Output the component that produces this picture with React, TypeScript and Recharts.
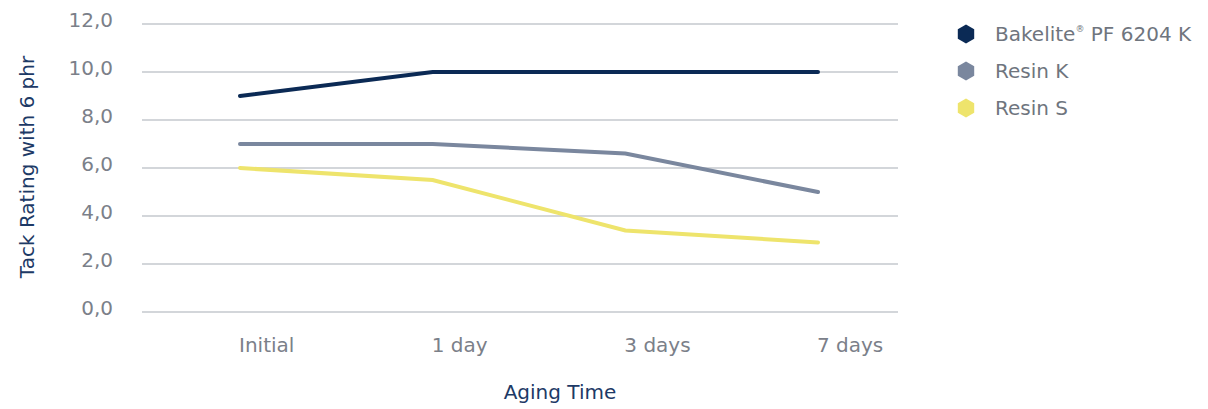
import React from 'react';
import { LineChart, Line, XAxis, YAxis, CartesianGrid, Legend } from 'recharts';

const categories = ['Initial', '1 day', '3 days', '7 days'];
const bakeliteValues = [9, 10, 10, 10];
const resinKValues = [7, 7, 6.6, 5];
const resinSValues = [6, 5.5, 3.4, 2.9];
const yTicks = [0, 2, 4, 6, 8, 10, 12];

const seriesList = [
  { key: 'bakelite', name: 'Bakelite', sup: '®', suffix: ' PF 6204 K', color: '#0b2a55' },
  { key: 'resinK', name: 'Resin K', sup: '', suffix: '', color: '#7a879e' },
  { key: 'resinS', name: 'Resin S', sup: '', suffix: '', color: '#eee46c' },
];

const data = categories.map((label, i) => ({
  label,
  bakelite: bakeliteValues[i],
  resinK: resinKValues[i],
  resinS: resinSValues[i],
}));

const FONT = '"DejaVu Sans", sans-serif';
const TICK_GRAY = '#7b8089';
const NAVY = '#1d3a66';

const XTick = (props: any) => {
  const { x, y, payload } = props;
  return (
    <text x={x - 1} y={y + 32} textAnchor="start" fill={TICK_GRAY} fontSize={20} fontFamily={FONT}>
      {payload.value}
    </text>
  );
};

const YTick = (props: any) => {
  const { x, y, payload } = props;
  return (
    <text x={x - 21} y={y + 3} textAnchor="end" fill={TICK_GRAY} fontSize={20} fontFamily={FONT}>
      {payload.value.toFixed(1).replace('.', ',')}
    </text>
  );
};

const Hexagon = ({ color }: { color: string }) => (
  <svg width={18} height={20} viewBox="0 0 18 20" style={{ display: 'block' }}>
    <polygon points="9,0.5 17.2,5.25 17.2,14.75 9,19.5 0.8,14.75 0.8,5.25" fill={color} />
  </svg>
);

const LegendContent = () => (
  <div style={{ fontFamily: FONT, fontSize: 20, color: '#6f757e' }}>
    {seriesList.map((s) => (
      <div key={s.key} style={{ display: 'flex', alignItems: 'center', height: 37 }}>
        <div style={{ width: 44, paddingLeft: 5.5, boxSizing: 'border-box' }}>
          <Hexagon color={s.color} />
        </div>
        <span style={{ whiteSpace: 'nowrap' }}>
          {s.name}
          {s.sup && <sup style={{ fontSize: 9, verticalAlign: 'top', position: 'relative', top: 2 }}>{s.sup}</sup>}
          {s.suffix}
        </span>
      </div>
    ))}
  </div>
);

export default function App() {
  return (
    <div style={{ position: 'absolute', left: 0, top: 0, width: 1208, height: 409, background: '#fff' }}>
      <LineChart width={1208} height={409} data={data} margin={{ top: 24, right: 52, bottom: 0, left: 0 }}>
        <CartesianGrid vertical={false} stroke="#d3d6da" strokeWidth={2} />
        <XAxis
          dataKey="label"
          axisLine={false}
          tickLine={false}
          height={97}
          padding={{ left: 98, right: 80 }}
          tick={<XTick />}
          interval={0}
          label={{
            content: () => (
              <text x={560} y={399} textAnchor="middle" fill={NAVY} fontSize={20} fontFamily={FONT}>
                Aging Time
              </text>
            ),
          }}
        />
        <YAxis
          domain={[0, 12]}
          ticks={yTicks}
          axisLine={false}
          tickLine={false}
          width={142}
          tick={<YTick />}
          interval={0}
          label={{
            content: () => (
              <text
                x={0}
                y={0}
                transform="translate(34,167) rotate(-90)"
                textAnchor="middle"
                fill={NAVY}
                fontSize={20}
                fontFamily={FONT}
              >
                Tack Rating with 6 phr
              </text>
            ),
          }}
        />
        <Legend
          layout="vertical"
          verticalAlign="top"
          align="right"
          content={<LegendContent />}
          wrapperStyle={{ left: 951, top: 15, width: 258 }}
        />
        {seriesList.map((s) => (
          <Line
            key={s.key}
            type="linear"
            dataKey={s.key}
            name={s.name}
            stroke={s.color}
            strokeWidth={4}
            strokeLinecap="round"
            dot={false}
            activeDot={false}
            isAnimationActive={false}
          />
        ))}
      </LineChart>
    </div>
  );
}
